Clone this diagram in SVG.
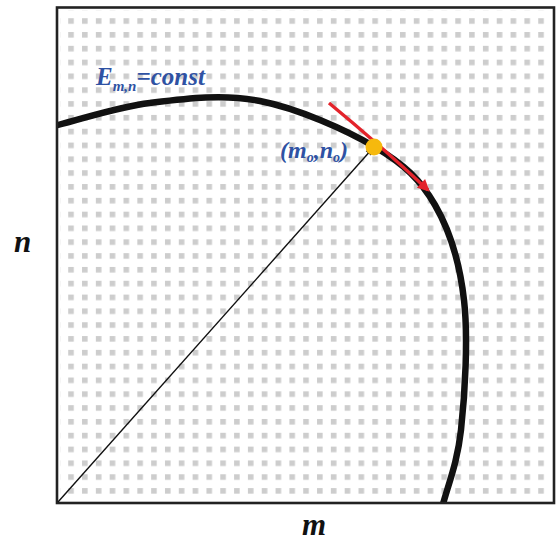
<svg xmlns="http://www.w3.org/2000/svg" width="558" height="541" viewBox="0 0 558 541">
  <style>
    .lbl { font-family: "Liberation Serif", "Times New Roman", serif; font-weight: bold; font-style: italic; }
    .blue { fill: #2f52a3; }
    .axis { fill: #111; font-size: 31px; }
  </style>
  <defs>
    <pattern id="dots" x="68.2" y="18.2" width="13.824" height="13.82" patternUnits="userSpaceOnUse">
      <rect x="0" y="0" width="5.6" height="5.6" fill="#cdcdcd"/>
    </pattern>
    <clipPath id="frameClip">
      <rect x="57" y="7.5" width="497" height="495.5"/>
    </clipPath>
    <marker id="blackHead" viewBox="0 0 10 10" refX="9" refY="5" markerWidth="9" markerHeight="7" markerUnits="userSpaceOnUse" orient="auto">
      <path d="M0,0 L10,5 L0,10 z" fill="#111"/>
    </marker>
    <marker id="redHead" viewBox="0 0 10 10" refX="8" refY="5" markerWidth="15" markerHeight="12" markerUnits="userSpaceOnUse" orient="auto">
      <path d="M0,0 L10,5 L0,10 z" fill="#e3232b"/>
    </marker>
  </defs>

  <g id="background">
    <rect x="0" y="0" width="558" height="541" fill="#ffffff"/>
    <rect x="60" y="10" width="492" height="490" fill="url(#dots)"/>
  </g>

  <g id="curve" clip-path="url(#frameClip)">
    <path d="M50,127 C83.3,119 115,107.3 150,103 C185,98.7 222.5,93.7 260,101 C297.5,108.3 345.8,129.7 375,147 C404.2,164.3 420.2,179.5 435,205 C449.8,230.5 459.7,262.5 464,300 C468.3,337.5 465,394.2 461,430 C457,465.8 447,486.7 440,515" fill="none" stroke="#111" stroke-width="6.5" stroke-linecap="butt"/>
  </g>

  <g id="frame">
    <rect x="57" y="7.5" width="497" height="495.5" fill="none" stroke="#222" stroke-width="2.6"/>
  </g>

  <g id="connectors">
    <line x1="58" y1="502" x2="372.5" y2="148.5" stroke="#111" stroke-width="1.4" marker-end="url(#blackHead)"/>
    <path d="M329,103 Q380,145 428,190" fill="none" stroke="#e3232b" stroke-width="3.4" marker-end="url(#redHead)"/>
  </g>

  <g id="point">
    <circle cx="374" cy="147" r="8.5" fill="#f6b90d"/>
  </g>

  <g id="label-energy">
    <text class="lbl blue" x="96" y="85" font-size="25">E<tspan font-size="15" dy="6">m,n</tspan><tspan dy="-6">=const</tspan></text>
  </g>

  <g id="label-point">
    <text class="lbl blue" x="280" y="158" font-size="24">(m<tspan font-size="14" dy="4">o</tspan><tspan dy="-4">,n</tspan><tspan font-size="14" dy="4">o</tspan><tspan dy="-4">)</tspan></text>
  </g>

  <g id="axis-n">
    <text class="lbl axis" x="14" y="252">n</text>
  </g>
  <g id="axis-m">
    <text class="lbl axis" x="302" y="535">m</text>
  </g>
</svg>
